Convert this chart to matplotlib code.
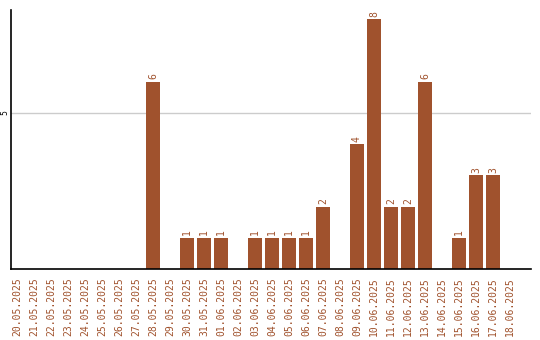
import matplotlib.pyplot as plt

dates = ["20.05.2025", "21.05.2025", "22.05.2025", "23.05.2025", "24.05.2025",
         "25.05.2025", "26.05.2025", "27.05.2025", "28.05.2025", "29.05.2025",
         "30.05.2025", "31.05.2025", "01.06.2025", "02.06.2025", "03.06.2025",
         "04.06.2025", "05.06.2025", "06.06.2025", "07.06.2025", "08.06.2025",
         "09.06.2025", "10.06.2025", "11.06.2025", "12.06.2025", "13.06.2025",
         "14.06.2025", "15.06.2025", "16.06.2025", "17.06.2025", "18.06.2025"]
counts = [0, 0, 0, 0, 0, 0, 0, 0, 6, 0,
          1, 1, 1, 0, 1, 1, 1, 1, 2, 0,
          4, 8, 2, 2, 6, 0, 1, 3, 3, 0]

color = "#a0522d"

fig = plt.figure(figsize=(5.4, 3.4), dpi=100)
ax = fig.add_axes([11 / 540, 71 / 340, 520 / 540, 259 / 340])

x = list(range(len(dates)))
ax.bar(x, counts, width=0.82, color=color, zorder=2)

for i, v in zip(x, counts):
    if v > 0:
        ax.text(i, v + 0.08, str(v), rotation=90, ha="center", va="bottom",
                color=color, fontsize=7, family="DejaVu Sans Mono")

ax.set_xlim(-0.35, 30.24)
ax.set_ylim(0, 8.3)
ax.set_xticks(x)
ax.set_xticklabels(dates, rotation=90, color=color, fontsize=7,
                   family="DejaVu Sans Mono")
ax.set_yticks([5])
ax.set_yticklabels(["5"], rotation=90, fontsize=5.5, va="center")
ax.tick_params(axis="x", length=0, pad=6)
ax.tick_params(axis="y", length=0, pad=1)
ax.grid(axis="y", color="#cccccc", linewidth=1, zorder=0)

ax.spines["top"].set_visible(False)
ax.spines["right"].set_visible(False)
ax.spines["left"].set_linewidth(1.2)
ax.spines["bottom"].set_linewidth(1.2)

fig.savefig("out.png", dpi=100)
